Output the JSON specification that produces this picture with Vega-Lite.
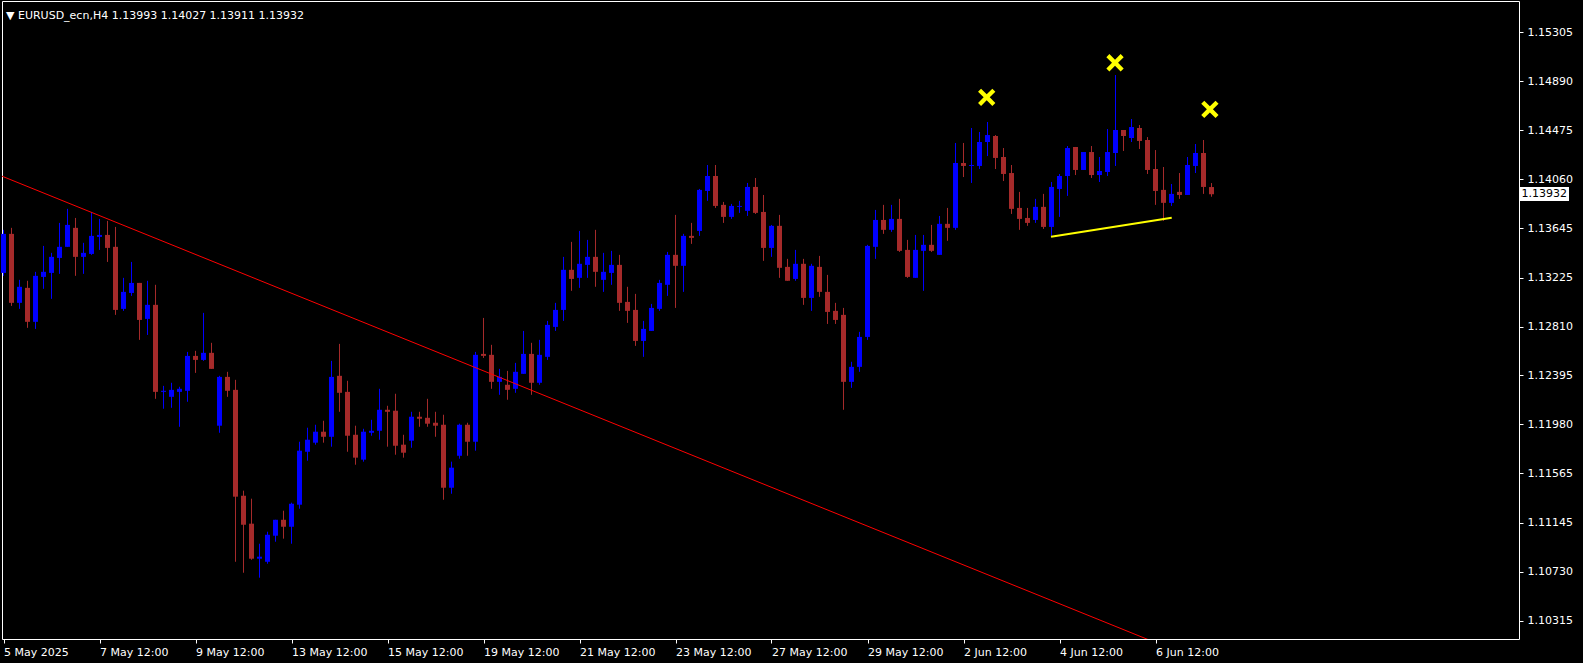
{
  "$schema": "https://vega.github.io/schema/vega-lite/v6.json",
  "width": 1517,
  "height": 638,
  "autosize": {"type": "none"},
  "padding": {"left": 2, "top": 1, "right": 64, "bottom": 24},
  "background": "#000000",
  "title": {"text": "▼ EURUSD_ecn,H4  1.13993 1.14027 1.13911 1.13932", "anchor": "start", "frame": "group", "orient": "top", "offset": -16, "dx": 4, "dy": 13, "color": "#FFFFFF", "font": "DejaVu Sans", "fontSize": 11, "fontWeight": "normal", "baseline": "alphabetic"},
  "config": {
    "view": {"stroke": "#FFFFFF", "strokeWidth": 1, "fill": "#000000"},
    "axis": {"domain": false, "grid": false, "labelColor": "#FFFFFF", "tickColor": "#FFFFFF", "labelFont": "DejaVu Sans", "labelFontSize": 11, "tickSize": 4, "tickWidth": 1}
  },
  "datasets": {
    "candles": [
      {"i":0,"o":1.13265,"h":1.13630,"l":1.13240,"c":1.13596},
      {"i":1,"o":1.13596,"h":1.13647,"l":1.12985,"c":1.13011},
      {"i":2,"o":1.13011,"h":1.13206,"l":1.12960,"c":1.13147},
      {"i":3,"o":1.13138,"h":1.13198,"l":1.12799,"c":1.12850},
      {"i":4,"o":1.12850,"h":1.13274,"l":1.12790,"c":1.13240},
      {"i":5,"o":1.13231,"h":1.13494,"l":1.13130,"c":1.13274},
      {"i":6,"o":1.13265,"h":1.13435,"l":1.13045,"c":1.13401},
      {"i":7,"o":1.13392,"h":1.13689,"l":1.13257,"c":1.13486},
      {"i":8,"o":1.13486,"h":1.13808,"l":1.13486,"c":1.13672},
      {"i":9,"o":1.13647,"h":1.13731,"l":1.13240,"c":1.13401},
      {"i":10,"o":1.13401,"h":1.13520,"l":1.13257,"c":1.13435},
      {"i":11,"o":1.13426,"h":1.13782,"l":1.13418,"c":1.13579},
      {"i":12,"o":1.13570,"h":1.13723,"l":1.13460,"c":1.13587},
      {"i":13,"o":1.13587,"h":1.13706,"l":1.13358,"c":1.13477},
      {"i":14,"o":1.13486,"h":1.13655,"l":1.12909,"c":1.12951},
      {"i":15,"o":1.12960,"h":1.13223,"l":1.12943,"c":1.13104},
      {"i":16,"o":1.13095,"h":1.13358,"l":1.13070,"c":1.13180},
      {"i":17,"o":1.13180,"h":1.13180,"l":1.12697,"c":1.12866},
      {"i":18,"o":1.12875,"h":1.13198,"l":1.12739,"c":1.12994},
      {"i":19,"o":1.12994,"h":1.13164,"l":1.12197,"c":1.12256},
      {"i":20,"o":1.12256,"h":1.12307,"l":1.12113,"c":1.12265},
      {"i":21,"o":1.12214,"h":1.12333,"l":1.12121,"c":1.12273},
      {"i":22,"o":1.12256,"h":1.12299,"l":1.11960,"c":1.12282},
      {"i":23,"o":1.12265,"h":1.12595,"l":1.12172,"c":1.12561},
      {"i":24,"o":1.12561,"h":1.12604,"l":1.12417,"c":1.12527},
      {"i":25,"o":1.12527,"h":1.12926,"l":1.12519,"c":1.12587},
      {"i":26,"o":1.12587,"h":1.12672,"l":1.12451,"c":1.12451},
      {"i":27,"o":1.11969,"h":1.12392,"l":1.11909,"c":1.12383},
      {"i":28,"o":1.12383,"h":1.12426,"l":1.12214,"c":1.12265},
      {"i":29,"o":1.12273,"h":1.12358,"l":1.10815,"c":1.11367},
      {"i":30,"o":1.11375,"h":1.11418,"l":1.10722,"c":1.11129},
      {"i":31,"o":1.11138,"h":1.11350,"l":1.10832,"c":1.10841},
      {"i":32,"o":1.10841,"h":1.10968,"l":1.10680,"c":1.10858},
      {"i":33,"o":1.10815,"h":1.11070,"l":1.10798,"c":1.11044},
      {"i":34,"o":1.11036,"h":1.11171,"l":1.10985,"c":1.11171},
      {"i":35,"o":1.11171,"h":1.11248,"l":1.11011,"c":1.11112},
      {"i":36,"o":1.11112,"h":1.11316,"l":1.10968,"c":1.11307},
      {"i":37,"o":1.11299,"h":1.11833,"l":1.11265,"c":1.11757},
      {"i":38,"o":1.11748,"h":1.11952,"l":1.11672,"c":1.11850},
      {"i":39,"o":1.11825,"h":1.11977,"l":1.11808,"c":1.11918},
      {"i":40,"o":1.11918,"h":1.12011,"l":1.11825,"c":1.11875},
      {"i":41,"o":1.11875,"h":1.12519,"l":1.11791,"c":1.12383},
      {"i":42,"o":1.12392,"h":1.12663,"l":1.12087,"c":1.12248},
      {"i":43,"o":1.12256,"h":1.12350,"l":1.11748,"c":1.11884},
      {"i":44,"o":1.11892,"h":1.11969,"l":1.11638,"c":1.11698},
      {"i":45,"o":1.11681,"h":1.11943,"l":1.11664,"c":1.11918},
      {"i":46,"o":1.11909,"h":1.12019,"l":1.11884,"c":1.11926},
      {"i":47,"o":1.11926,"h":1.12282,"l":1.11850,"c":1.12104},
      {"i":48,"o":1.12104,"h":1.12138,"l":1.11791,"c":1.12087},
      {"i":49,"o":1.12096,"h":1.12240,"l":1.11723,"c":1.11799},
      {"i":50,"o":1.11808,"h":1.11892,"l":1.11698,"c":1.11740},
      {"i":51,"o":1.11842,"h":1.12087,"l":1.11782,"c":1.12045},
      {"i":52,"o":1.12045,"h":1.12087,"l":1.11960,"c":1.12028},
      {"i":53,"o":1.12036,"h":1.12197,"l":1.11960,"c":1.11986},
      {"i":54,"o":1.11994,"h":1.12087,"l":1.11875,"c":1.11969},
      {"i":55,"o":1.11977,"h":1.12062,"l":1.11341,"c":1.11443},
      {"i":56,"o":1.11443,"h":1.11664,"l":1.11392,"c":1.11613},
      {"i":57,"o":1.11714,"h":1.11986,"l":1.11689,"c":1.11977},
      {"i":58,"o":1.11977,"h":1.11994,"l":1.11714,"c":1.11833},
      {"i":59,"o":1.11833,"h":1.12595,"l":1.11757,"c":1.12570},
      {"i":60,"o":1.12578,"h":1.12883,"l":1.12544,"c":1.12561},
      {"i":61,"o":1.12570,"h":1.12655,"l":1.12282,"c":1.12341},
      {"i":62,"o":1.12341,"h":1.12451,"l":1.12231,"c":1.12383},
      {"i":63,"o":1.12316,"h":1.12434,"l":1.12189,"c":1.12273},
      {"i":64,"o":1.12282,"h":1.12502,"l":1.12248,"c":1.12426},
      {"i":65,"o":1.12409,"h":1.12773,"l":1.12409,"c":1.12578},
      {"i":66,"o":1.12578,"h":1.12672,"l":1.12231,"c":1.12333},
      {"i":67,"o":1.12333,"h":1.12697,"l":1.12316,"c":1.12570},
      {"i":68,"o":1.12553,"h":1.12858,"l":1.12527,"c":1.12824},
      {"i":69,"o":1.12807,"h":1.13011,"l":1.12773,"c":1.12951},
      {"i":70,"o":1.12951,"h":1.13401,"l":1.12858,"c":1.13291},
      {"i":71,"o":1.13291,"h":1.13528,"l":1.13113,"c":1.13214},
      {"i":72,"o":1.13223,"h":1.13621,"l":1.13138,"c":1.13342},
      {"i":73,"o":1.13333,"h":1.13545,"l":1.13223,"c":1.13401},
      {"i":74,"o":1.13401,"h":1.13630,"l":1.13147,"c":1.13274},
      {"i":75,"o":1.13206,"h":1.13435,"l":1.13104,"c":1.13274},
      {"i":76,"o":1.13265,"h":1.13452,"l":1.13164,"c":1.13333},
      {"i":77,"o":1.13333,"h":1.13418,"l":1.12943,"c":1.13011},
      {"i":78,"o":1.13019,"h":1.13147,"l":1.12841,"c":1.12943},
      {"i":79,"o":1.12951,"h":1.13087,"l":1.12646,"c":1.12688},
      {"i":80,"o":1.12688,"h":1.12858,"l":1.12553,"c":1.12790},
      {"i":81,"o":1.12773,"h":1.13002,"l":1.12773,"c":1.12968},
      {"i":82,"o":1.12960,"h":1.13206,"l":1.12943,"c":1.13180},
      {"i":83,"o":1.13164,"h":1.13443,"l":1.13070,"c":1.13418},
      {"i":84,"o":1.13418,"h":1.13757,"l":1.12968,"c":1.13325},
      {"i":85,"o":1.13325,"h":1.13596,"l":1.13104,"c":1.13579},
      {"i":86,"o":1.13579,"h":1.13689,"l":1.13511,"c":1.13562},
      {"i":87,"o":1.13621,"h":1.13977,"l":1.13579,"c":1.13969},
      {"i":88,"o":1.13960,"h":1.14180,"l":1.13876,"c":1.14087},
      {"i":89,"o":1.14087,"h":1.14180,"l":1.13816,"c":1.13833},
      {"i":90,"o":1.13842,"h":1.13867,"l":1.13689,"c":1.13740},
      {"i":91,"o":1.13740,"h":1.13850,"l":1.13723,"c":1.13833},
      {"i":92,"o":1.13825,"h":1.13876,"l":1.13774,"c":1.13833},
      {"i":93,"o":1.13791,"h":1.14028,"l":1.13748,"c":1.13994},
      {"i":94,"o":1.13994,"h":1.14070,"l":1.13765,"c":1.13774},
      {"i":95,"o":1.13782,"h":1.13926,"l":1.13367,"c":1.13477},
      {"i":96,"o":1.13477,"h":1.13672,"l":1.13401,"c":1.13664},
      {"i":97,"o":1.13664,"h":1.13757,"l":1.13223,"c":1.13308},
      {"i":98,"o":1.13316,"h":1.13384,"l":1.13198,"c":1.13198},
      {"i":99,"o":1.13214,"h":1.13460,"l":1.13198,"c":1.13342},
      {"i":100,"o":1.13342,"h":1.13384,"l":1.12994,"c":1.13053},
      {"i":101,"o":1.13053,"h":1.13342,"l":1.12943,"c":1.13325},
      {"i":102,"o":1.13316,"h":1.13409,"l":1.13062,"c":1.13104},
      {"i":103,"o":1.13104,"h":1.13248,"l":1.12832,"c":1.12934},
      {"i":104,"o":1.12943,"h":1.13011,"l":1.12832,"c":1.12866},
      {"i":105,"o":1.12909,"h":1.12968,"l":1.12104,"c":1.12341},
      {"i":106,"o":1.12341,"h":1.12511,"l":1.12290,"c":1.12468},
      {"i":107,"o":1.12468,"h":1.12765,"l":1.12426,"c":1.12722},
      {"i":108,"o":1.12722,"h":1.13503,"l":1.12697,"c":1.13494},
      {"i":109,"o":1.13486,"h":1.13799,"l":1.13384,"c":1.13714},
      {"i":110,"o":1.13714,"h":1.13842,"l":1.13596,"c":1.13630},
      {"i":111,"o":1.13630,"h":1.13842,"l":1.13613,"c":1.13723},
      {"i":112,"o":1.13723,"h":1.13893,"l":1.13443,"c":1.13452},
      {"i":113,"o":1.13460,"h":1.13545,"l":1.13223,"c":1.13231},
      {"i":114,"o":1.13223,"h":1.13587,"l":1.13223,"c":1.13460},
      {"i":115,"o":1.13452,"h":1.13587,"l":1.13113,"c":1.13503},
      {"i":116,"o":1.13503,"h":1.13672,"l":1.13443,"c":1.13452},
      {"i":117,"o":1.13418,"h":1.13748,"l":1.13418,"c":1.13681},
      {"i":118,"o":1.13681,"h":1.13816,"l":1.13537,"c":1.13647},
      {"i":119,"o":1.13647,"h":1.14367,"l":1.13630,"c":1.14197},
      {"i":120,"o":1.14197,"h":1.14367,"l":1.14078,"c":1.14172},
      {"i":121,"o":1.14172,"h":1.14494,"l":1.14028,"c":1.14180},
      {"i":122,"o":1.14172,"h":1.14460,"l":1.14146,"c":1.14375},
      {"i":123,"o":1.14375,"h":1.14545,"l":1.14256,"c":1.14434},
      {"i":124,"o":1.14426,"h":1.14434,"l":1.14146,"c":1.14240},
      {"i":125,"o":1.14248,"h":1.14324,"l":1.14044,"c":1.14104},
      {"i":126,"o":1.14112,"h":1.14180,"l":1.13765,"c":1.13808},
      {"i":127,"o":1.13816,"h":1.13952,"l":1.13630,"c":1.13723},
      {"i":128,"o":1.13731,"h":1.13816,"l":1.13664,"c":1.13689},
      {"i":129,"o":1.13714,"h":1.13893,"l":1.13689,"c":1.13825},
      {"i":130,"o":1.13825,"h":1.13935,"l":1.13638,"c":1.13655},
      {"i":131,"o":1.13655,"h":1.14036,"l":1.13579,"c":1.13994},
      {"i":132,"o":1.13977,"h":1.14104,"l":1.13740,"c":1.14087},
      {"i":133,"o":1.14087,"h":1.14341,"l":1.13918,"c":1.14324},
      {"i":134,"o":1.14333,"h":1.14333,"l":1.14095,"c":1.14138},
      {"i":135,"o":1.14138,"h":1.14290,"l":1.14138,"c":1.14290},
      {"i":136,"o":1.14290,"h":1.14341,"l":1.14070,"c":1.14095},
      {"i":137,"o":1.14095,"h":1.14248,"l":1.14036,"c":1.14129},
      {"i":138,"o":1.14121,"h":1.14485,"l":1.14087,"c":1.14290},
      {"i":139,"o":1.14282,"h":1.14943,"l":1.14172,"c":1.14477},
      {"i":140,"o":1.14477,"h":1.14477,"l":1.14299,"c":1.14426},
      {"i":141,"o":1.14409,"h":1.14570,"l":1.14375,"c":1.14502},
      {"i":142,"o":1.14494,"h":1.14519,"l":1.14316,"c":1.14384},
      {"i":143,"o":1.14392,"h":1.14417,"l":1.14104,"c":1.14138},
      {"i":144,"o":1.14146,"h":1.14307,"l":1.13842,"c":1.13960},
      {"i":145,"o":1.13969,"h":1.14163,"l":1.13706,"c":1.13859},
      {"i":146,"o":1.13859,"h":1.14019,"l":1.13833,"c":1.13935},
      {"i":147,"o":1.13952,"h":1.14112,"l":1.13893,"c":1.13926},
      {"i":148,"o":1.13926,"h":1.14248,"l":1.13926,"c":1.14180},
      {"i":149,"o":1.14172,"h":1.14358,"l":1.14112,"c":1.14282},
      {"i":150,"o":1.14282,"h":1.14392,"l":1.13935,"c":1.13994},
      {"i":151,"o":1.13993,"h":1.14027,"l":1.13911,"c":1.13932}
    ],
    "trend": [{"i": -0.4375, "p": 1.14092}, {"i": 160, "p": 1.09691}],
    "support": [{"i": 130.94, "p": 1.13572}, {"i": 146.03, "p": 1.13733}],
    "crosses": [{"i": 122.9, "p": 1.14754}, {"i": 138.94, "p": 1.15047}, {"i": 150.8, "p": 1.14652}],
    "pricebox": [{"x1": 189.4375, "x2": 195.6875, "y1": 1.13994, "y2": 1.13875, "xt": 189.75, "p": 1.13932, "t": "1.13932"}]
  },
  "layer": [
    {
      "mark": {"type": "rule", "color": "#778899", "strokeWidth": 1},
      "encoding": {
        "y": {"datum": 1.13932, "type": "quantitative", "scale": {"domain": [1.10160, 1.15571], "nice": false, "zero": false, "padding": 0}, "title": null}
      }
    },
    {
      "data": {"name": "candles"},
      "mark": {"type": "rule", "strokeWidth": 1},
      "encoding": {
        "x": {"field": "i", "type": "quantitative", "scale": {"domain": [-0.1875, 189.4375], "nice": false, "zero": false, "padding": 0}, "title": null,
              "axis": {"orient": "bottom", "values": [0,12,24,36,48,60,72,84,96,108,120,132,144], "labelExpr": "['5 May 2025','7 May 12:00','9 May 12:00','13 May 12:00','15 May 12:00','19 May 12:00','21 May 12:00','23 May 12:00','27 May 12:00','29 May 12:00','2 Jun 12:00','4 Jun 12:00','6 Jun 12:00'][round(datum.value/12)]", "labelAlign": "left", "labelBaseline": "top", "labelPadding": 3, "labelOverlap": false, "labelFlush": false, "labelBound": false, "tickSize": 4}},
        "y": {"field": "l", "type": "quantitative", "title": null,
              "axis": {"orient": "right", "values": [1.10315,1.10730,1.11145,1.11565,1.11980,1.12395,1.12810,1.13225,1.13645,1.14060,1.14475,1.14890,1.15305], "format": ".5f", "labelAlign": "left", "labelBaseline": "middle", "labelPadding": 4, "labelOverlap": false, "labelFlush": false, "labelBound": false, "tickSize": 4}},
        "y2": {"field": "h"},
        "color": {"condition": {"test": "datum.c >= datum.o", "value": "#0000FF"}, "value": "#A52A2A"}
      }
    },
    {
      "data": {"name": "candles"},
      "mark": {"type": "bar", "size": 5},
      "encoding": {
        "x": {"field": "i", "type": "quantitative", "title": null},
        "y": {"field": "o", "type": "quantitative", "title": null},
        "y2": {"field": "c"},
        "color": {"condition": {"test": "datum.c >= datum.o", "value": "#0000FF"}, "value": "#A52A2A"}
      }
    },
    {
      "data": {"name": "trend"},
      "mark": {"type": "line", "color": "#FF0000", "strokeWidth": 1, "clip": true},
      "encoding": {
        "x": {"field": "i", "type": "quantitative", "title": null},
        "y": {"field": "p", "type": "quantitative", "title": null}
      }
    },
    {
      "data": {"name": "support"},
      "mark": {"type": "line", "color": "#FFFF00", "strokeWidth": 2},
      "encoding": {
        "x": {"field": "i", "type": "quantitative", "title": null},
        "y": {"field": "p", "type": "quantitative", "title": null}
      }
    },
    {
      "data": {"name": "crosses"},
      "mark": {"type": "point", "shape": "M-0.65,-1L0,-0.35L0.65,-1L1,-0.65L0.35,0L1,0.65L0.65,1L0,0.35L-0.65,1L-1,0.65L-0.35,0L-1,-0.65Z", "filled": true, "color": "#FFFF00", "size": 300, "opacity": 1},
      "encoding": {
        "x": {"field": "i", "type": "quantitative", "title": null},
        "y": {"field": "p", "type": "quantitative", "title": null}
      }
    },
    {
      "data": {"name": "pricebox"},
      "mark": {"type": "rect", "color": "#FFFFFF", "clip": false},
      "encoding": {
        "x": {"field": "x1", "type": "quantitative", "title": null},
        "x2": {"field": "x2"},
        "y": {"field": "y1", "type": "quantitative", "title": null},
        "y2": {"field": "y2"}
      }
    },
    {
      "data": {"name": "pricebox"},
      "mark": {"type": "text", "color": "#000000", "align": "left", "baseline": "middle", "font": "DejaVu Sans", "fontSize": 11, "clip": false},
      "encoding": {
        "x": {"field": "xt", "type": "quantitative", "title": null},
        "y": {"field": "p", "type": "quantitative", "title": null},
        "text": {"field": "t"}
      }
    }
  ]
}
